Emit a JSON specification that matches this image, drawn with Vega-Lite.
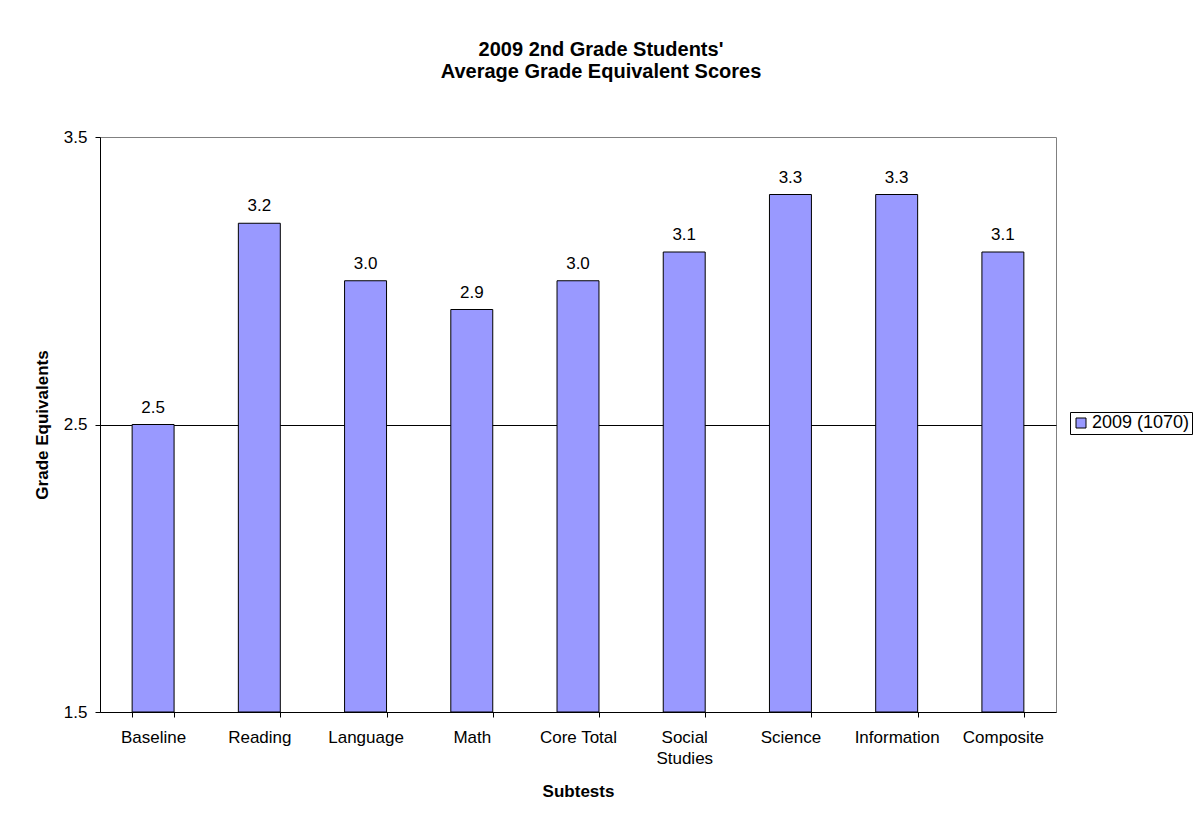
{
  "$schema": "https://vega.github.io/schema/vega-lite/v6.json",
  "autosize": "none",
  "width": 956,
  "height": 575,
  "padding": {"left": 100, "top": 137, "right": 145, "bottom": 115},
  "background": "white",
  "title": {
    "text": ["2009 2nd Grade Students'", "Average Grade Equivalent Scores"],
    "font": "Liberation Sans",
    "fontSize": 20,
    "fontWeight": "bold",
    "lineHeight": 22,
    "color": "black",
    "anchor": "middle",
    "dx": 23,
    "offset": 46
  },
  "data": {
    "values": [
      {"subtest": "Baseline", "score": 2.5, "series": "2009 (1070)"},
      {"subtest": "Reading", "score": 3.2, "series": "2009 (1070)"},
      {"subtest": "Language", "score": 3.0, "series": "2009 (1070)"},
      {"subtest": "Math", "score": 2.9, "series": "2009 (1070)"},
      {"subtest": "Core Total", "score": 3.0, "series": "2009 (1070)"},
      {"subtest": "Social Studies", "score": 3.1, "series": "2009 (1070)"},
      {"subtest": "Science", "score": 3.3, "series": "2009 (1070)"},
      {"subtest": "Information", "score": 3.3, "series": "2009 (1070)"},
      {"subtest": "Composite", "score": 3.1, "series": "2009 (1070)"}
    ]
  },
  "encoding": {
    "x": {
      "field": "subtest",
      "type": "nominal",
      "sort": null,
      "scale": {"paddingInner": 0.605, "paddingOuter": 0.3025},
      "axis": {
        "title": "Subtests",
        "labelAngle": 0,
        "labelExpr": "datum.label == 'Social Studies' ? ['Social', 'Studies'] : datum.label",
        "labelLineHeight": 21,
        "tickBand": "extent",
        "tickSize": 5,
        "labelPadding": 12,
        "titlePadding": 17,
        "labelFontSize": 17,
        "titleFontSize": 17
      }
    },
    "y": {
      "field": "score",
      "type": "quantitative",
      "scale": {"domain": [1.5, 3.5], "nice": false, "zero": false},
      "axis": {
        "title": "Grade Equivalents",
        "values": [1.5, 2.5, 3.5],
        "format": ".1f",
        "tickSize": 5,
        "labelPadding": 8,
        "titlePadding": 12,
        "labelFontSize": 17,
        "titleFontSize": 17,
        "grid": true,
        "gridColor": {"condition": {"test": "datum.value == 2.5", "value": "black"}, "value": "transparent"}
      }
    }
  },
  "layer": [
    {
      "mark": {"type": "bar", "stroke": "black", "strokeWidth": 1},
      "encoding": {
        "y2": {"datum": 1.5},
        "color": {
          "field": "series",
          "type": "nominal",
          "scale": {"range": ["#9999FF"]},
          "legend": {
            "title": null,
            "orient": "none",
            "legendX": 970,
            "legendY": 275,
            "strokeColor": "black",
            "padding": 2,
            "symbolType": "square",
            "symbolSize": 100,
            "symbolStrokeColor": "black",
            "symbolStrokeWidth": 1,
            "symbolOpacity": 1,
            "labelFontSize": 18,
            "labelOffset": 2,
            "labelFont": "Liberation Sans",
            "labelColor": "black"
          }
        }
      }
    },
    {
      "mark": {"type": "text", "baseline": "alphabetic", "dy": -12, "fontSize": 17, "font": "Liberation Sans", "color": "black"},
      "encoding": {
        "text": {"field": "score", "type": "quantitative", "format": ".1f"}
      }
    }
  ],
  "config": {
    "font": "Liberation Sans",
    "view": {"stroke": "#808080", "strokeWidth": 1},
    "axis": {
      "domainColor": "black",
      "tickColor": "black",
      "labelColor": "black",
      "titleColor": "black",
      "labelFont": "Liberation Sans",
      "titleFont": "Liberation Sans",
      "titleFontWeight": "bold"
    }
  }
}
